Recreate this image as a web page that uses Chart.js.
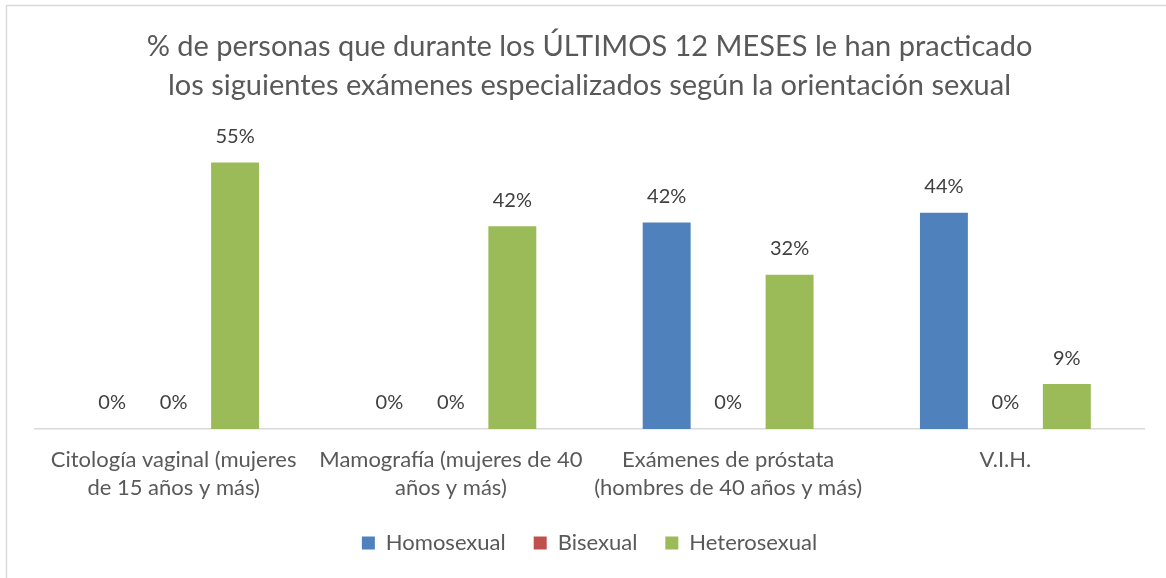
<!DOCTYPE html>
<html>
<head>
<meta charset="utf-8">
<script src="https://cdn.jsdelivr.net/npm/chart.js@4"></script>
<style>
html,body{margin:0;padding:0;background:#fff;}
#c{display:block;}
</style>
</head>
<body>
<canvas id="c" width="1166" height="578"></canvas>
<script>
const categories = [
  ["Citología vaginal (mujeres", "de 15 años y más)"],
  ["Mamografía (mujeres de 40", "años y más)"],
  ["Exámenes de próstata", "(hombres de 40 años y más)"],
  ["V.I.H."]
];
const seriesNames = ["Homosexual", "Bisexual", "Heterosexual"];
const homosexual = [0, 0, 42.3, 44.3];
const bisexual = [0, 0, 0, 0];
const heterosexual = [54.6, 41.5, 31.6, 9.2];
const titleLines = [
  "% de personas que durante los ÚLTIMOS 12 MESES le han practicado",
  "los siguientes exámenes especializados según la orientación sexual"
];
const colors = ["#4f81bd", "#c0504d", "#9bbb59"];
const FONT = "Lato, 'Open Sans', sans-serif";

const borderPlugin = {
  id: 'outerBorder',
  beforeDraw(chart) {
    const ctx = chart.ctx;
    ctx.save();
    ctx.fillStyle = '#fff';
    ctx.fillRect(0, 0, chart.width, chart.height);
    ctx.strokeStyle = '#d9d9d9';
    ctx.lineWidth = 1.5;
    ctx.beginPath();
    ctx.moveTo(6.5, chart.height + 5);
    ctx.lineTo(6.5, 5.5);
    ctx.lineTo(chart.width + 5, 5.5);
    ctx.stroke();
    ctx.restore();
  }
};

const labelPlugin = {
  id: 'valueLabels',
  afterDatasetsDraw(chart) {
    const ctx = chart.ctx;
    ctx.save();
    ctx.font = "20px " + FONT;
    ctx.fillStyle = '#404040';
    ctx.textAlign = 'center';
    ctx.textBaseline = 'middle';
    chart.data.datasets.forEach((ds, i) => {
      const meta = chart.getDatasetMeta(i);
      meta.data.forEach((bar, j) => {
        const v = ds.data[j];
        ctx.fillText(Math.round(v) + '%', bar.x, bar.y - 26);
      });
    });
    ctx.restore();
  }
};

new Chart(document.getElementById('c'), {
  type: 'bar',
  data: {
    labels: categories,
    datasets: [
      { label: seriesNames[0], data: homosexual, backgroundColor: colors[0] },
      { label: seriesNames[1], data: bisexual, backgroundColor: colors[1] },
      { label: seriesNames[2], data: heterosexual, backgroundColor: colors[2] }
    ]
  },
  options: {
    responsive: false,
    animation: false,
    devicePixelRatio: 1,
    layout: { padding: { left: 35, right: 22, top: 27.5, bottom: 14 } },
    datasets: { bar: { barPercentage: 0.78, categoryPercentage: 0.665 } },
    scales: {
      x: {
        grid: { display: false, drawTicks: false },
        border: { display: true, color: '#d9d9d9', width: 1.5 },
        ticks: {
          color: '#595959',
          font: { family: FONT, size: 22, lineHeight: 1.27 },
          padding: 17,
          maxRotation: 0,
          autoSkip: false
        },
        afterFit(scale) { scale.height = 75; }
      },
      y: {
        display: false,
        min: 0,
        max: 60
      }
    },
    plugins: {
      title: {
        display: true,
        text: titleLines,
        color: '#595959',
        font: { family: FONT, size: 29, weight: 'normal', lineHeight: 1.345 },
        padding: { top: 0, bottom: 30.5 }
      },
      legend: {
        position: 'bottom',
        maxHeight: 60,
        labels: {
          color: '#595959',
          font: { family: FONT, size: 22 },
          boxWidth: 13,
          boxHeight: 13,
          padding: 28
        }
      },
      tooltip: { enabled: false }
    }
  },
  plugins: [borderPlugin, labelPlugin]
});
</script>
</body>
</html>
